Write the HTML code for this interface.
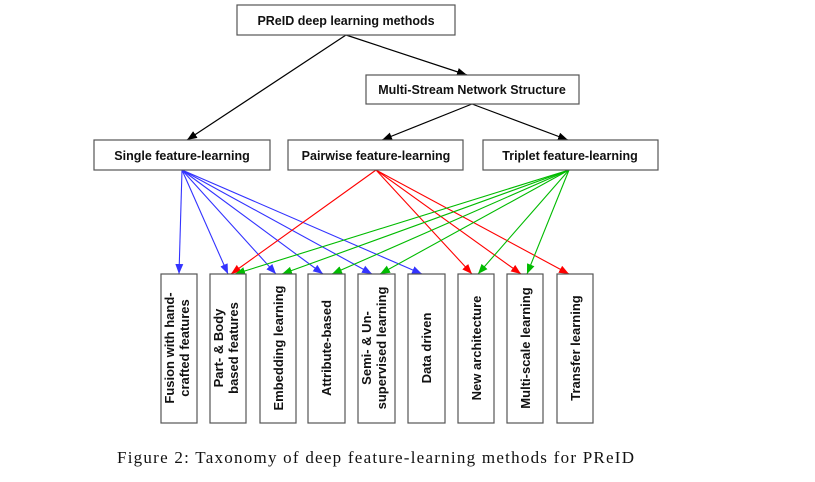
<!DOCTYPE html>
<html><head><meta charset="utf-8"><style>
html,body{margin:0;padding:0;background:#fff;width:815px;height:482px;overflow:hidden}
svg{display:block}
.b{font-family:"Liberation Sans",sans-serif;font-weight:bold;font-size:12.5px;fill:#111}
.v{font-family:"Liberation Sans",sans-serif;font-weight:bold;font-size:13px;fill:#111}
rect{fill:#fff;stroke:#555;stroke-width:1.2}
</style></head><body>
<svg width="815" height="482" viewBox="0 0 815 482" xmlns="http://www.w3.org/2000/svg">
<defs>
<marker id="ak" markerWidth="10" markerHeight="8" refX="10" refY="4" orient="auto" markerUnits="userSpaceOnUse"><path d="M0,0 L10,4 L0,8 z" fill="#000"/></marker>
<marker id="ab" markerWidth="10" markerHeight="8" refX="10" refY="4" orient="auto" markerUnits="userSpaceOnUse"><path d="M0,0 L10,4 L0,8 z" fill="#3333ff"/></marker>
<marker id="ar" markerWidth="10" markerHeight="8" refX="10" refY="4" orient="auto" markerUnits="userSpaceOnUse"><path d="M0,0 L10,4 L0,8 z" fill="#ff0000"/></marker>
<marker id="ag" markerWidth="10" markerHeight="8" refX="10" refY="4" orient="auto" markerUnits="userSpaceOnUse"><path d="M0,0 L10,4 L0,8 z" fill="#00bb00"/></marker>
</defs>
<g stroke="#000" stroke-width="1.2" fill="none">
<line x1="346" y1="35" x2="187" y2="140" marker-end="url(#ak)"/>
<line x1="346" y1="35" x2="467" y2="75" marker-end="url(#ak)"/>
<line x1="472" y1="104" x2="382" y2="140" marker-end="url(#ak)"/>
<line x1="472" y1="104" x2="568" y2="140" marker-end="url(#ak)"/>
</g>
<g stroke="#3333ff" stroke-width="1.1" marker-end="url(#ab)">
<line x1="182" y1="170" x2="179" y2="274"/>
<line x1="182" y1="170" x2="228" y2="274"/>
<line x1="182" y1="170" x2="276" y2="274"/>
<line x1="182" y1="170" x2="323" y2="274"/>
<line x1="182" y1="170" x2="372" y2="274"/>
<line x1="182" y1="170" x2="422" y2="274"/>
</g>
<g stroke="#ff0000" stroke-width="1.1" marker-end="url(#ar)">
<line x1="376" y1="170" x2="231" y2="274"/>
<line x1="376" y1="170" x2="472" y2="274"/>
<line x1="376" y1="170" x2="521" y2="274"/>
<line x1="376" y1="170" x2="569" y2="274"/>
</g>
<g stroke="#00bb00" stroke-width="1.1" marker-end="url(#ag)">
<line x1="569" y1="170" x2="235" y2="274"/>
<line x1="569" y1="170" x2="282" y2="274"/>
<line x1="569" y1="170" x2="332" y2="274"/>
<line x1="569" y1="170" x2="380" y2="274"/>
<line x1="569" y1="170" x2="478" y2="274"/>
<line x1="569" y1="170" x2="527" y2="274"/>
</g>
<rect x="237" y="5" width="218" height="30"/>
<text class="b" x="346" y="25" text-anchor="middle">PReID deep learning methods</text>
<rect x="366" y="75" width="213" height="29"/>
<text class="b" x="472" y="94" text-anchor="middle">Multi-Stream Network Structure</text>
<rect x="94" y="140" width="176" height="30"/>
<text class="b" x="182" y="160" text-anchor="middle">Single feature-learning</text>
<rect x="288" y="140" width="175" height="30"/>
<text class="b" x="376" y="160" text-anchor="middle">Pairwise feature-learning</text>
<rect x="483" y="140" width="175" height="30"/>
<text class="b" x="570" y="160" text-anchor="middle">Triplet feature-learning</text>
<rect x="161" y="274" width="36" height="149"/>
<rect x="210" y="274" width="36" height="149"/>
<rect x="260" y="274" width="36" height="149"/>
<rect x="308" y="274" width="37" height="149"/>
<rect x="358" y="274" width="37" height="149"/>
<rect x="408" y="274" width="37" height="149"/>
<rect x="458" y="274" width="36" height="149"/>
<rect x="507" y="274" width="36" height="149"/>
<rect x="557" y="274" width="36" height="149"/>
<g class="v" text-anchor="middle">
<text transform="translate(174,348) rotate(-90)">Fusion with hand-</text>
<text transform="translate(189,348) rotate(-90)">crafted features</text>
<text transform="translate(223,348) rotate(-90)">Part- &amp; Body</text>
<text transform="translate(238,348) rotate(-90)">based features</text>
<text transform="translate(283,348) rotate(-90)">Embedding learning</text>
<text transform="translate(331,348) rotate(-90)">Attribute-based</text>
<text transform="translate(371,348) rotate(-90)">Semi- &amp; Un-</text>
<text transform="translate(386,348) rotate(-90)">supervised learning</text>
<text transform="translate(431,348) rotate(-90)">Data driven</text>
<text transform="translate(481,348) rotate(-90)">New architecture</text>
<text transform="translate(530,348) rotate(-90)">Multi-scale learning</text>
<text transform="translate(580,348) rotate(-90)">Transfer learning</text>
</g>
<text x="117" y="463" font-family="'Liberation Serif',serif" font-size="17" fill="#111" textLength="517">Figure 2: Taxonomy of deep feature-learning methods for PReID</text>
</svg>
</body></html>
